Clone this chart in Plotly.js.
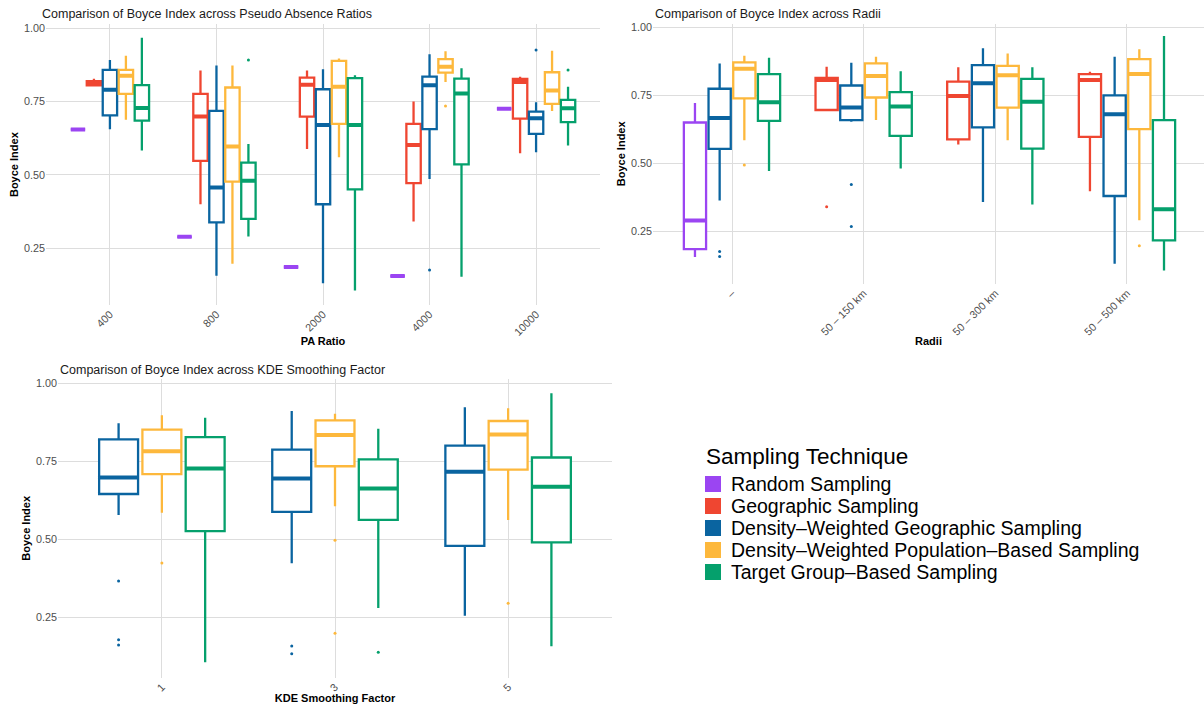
<!DOCTYPE html>
<html><head><meta charset="utf-8">
<script src="https://cdn.plot.ly/plotly-3.0.1.min.js"></script>
<style>html,body{margin:0;padding:0;background:#fff}</style>
</head><body><div id="chart" style="width:1204px;height:704px"></div>
<script>
// Series
const seriesNames = ['Random Sampling','Geographic Sampling','Density–Weighted Geographic Sampling','Density–Weighted Population–Based Sampling','Target Group–Based Sampling'];
const seriesColors = ['#9B45F2','#EF4631','#0A64A0','#FDB83C','#05A06C'];

// Box stats per category: [lower whisker, Q1, median, Q3, upper whisker]; null = no box
// Panel 1: PA Ratio
const paRatios = ['400','800','2000','4000','10000'];
const paRandom = [[0.655,0.655,0.655,0.655,0.655],[0.289,0.289,0.289,0.289,0.289],[0.186,0.186,0.186,0.186,0.186],[0.155,0.155,0.155,0.155,0.155],[0.726,0.726,0.726,0.726,0.726]];
const paGeo    = [[0.805,0.805,0.810,0.820,0.828],[0.400,0.548,0.699,0.776,0.856],[0.588,0.699,0.807,0.832,0.856],[0.341,0.472,0.602,0.674,0.750],[0.574,0.692,0.817,0.827,0.835]];
const paDWG    = [[0.656,0.703,0.790,0.858,0.892],[0.156,0.338,0.457,0.718,0.873],[0.131,0.400,0.670,0.792,0.860],[0.486,0.656,0.806,0.835,0.911],[0.577,0.640,0.693,0.716,0.748]];
const paDWP    = [[0.688,0.776,0.838,0.858,0.906],[0.197,0.477,0.597,0.798,0.873],[0.560,0.674,0.801,0.889,0.897],[0.817,0.849,0.869,0.895,0.922],[0.718,0.742,0.788,0.850,0.923]];
const paTG     = [[0.583,0.685,0.728,0.806,0.968],[0.290,0.350,0.480,0.542,0.605],[0.106,0.451,0.670,0.830,0.840],[0.153,0.536,0.778,0.828,0.864],[0.600,0.680,0.727,0.756,0.801]];
const paOutDWG = [['4000',0.176],['10000',0.926]];
const paOutDWP = [['4000',0.735]];
const paOutTG  = [['800',0.892],['10000',0.858]];

// Panel 2: Radii
const radii = ['–','50 – 150 km','50 – 300 km','50 – 500 km'];
const radRandom = [[0.156,0.185,0.290,0.650,0.722],null,null,null];
const radGeo    = [null,[0.694,0.696,0.806,0.814,0.855],[0.569,0.588,0.747,0.800,0.853],[0.397,0.597,0.806,0.828,0.837]];
const radDWG    = [[0.363,0.553,0.667,0.774,0.867],[0.653,0.659,0.705,0.786,0.870],[0.358,0.632,0.794,0.861,0.923],[0.131,0.380,0.680,0.750,0.892]];
const radDWP    = [[0.585,0.739,0.848,0.871,0.895],[0.659,0.742,0.821,0.867,0.892],[0.585,0.705,0.824,0.858,0.904],[0.291,0.626,0.828,0.883,0.919]];
const radTG     = [[0.472,0.656,0.724,0.828,0.888],[0.481,0.601,0.709,0.762,0.838],[0.349,0.554,0.726,0.810,0.853],[0.106,0.217,0.331,0.659,0.968]];
const radOutGeo = [['50 – 150 km',0.340]];
const radOutDWG = [['–',0.176],['–',0.158],['50 – 150 km',0.422],['50 – 150 km',0.268]];
const radOutDWP = [['–',0.494],['50 – 500 km',0.197]];

// Panel 3: KDE Smoothing Factor
const kdeFactors = ['1','3','5'];
const kdeDWG = [[0.578,0.645,0.698,0.820,0.872],[0.423,0.588,0.695,0.787,0.911],[0.255,0.479,0.716,0.800,0.923]];
const kdeDWP = [[0.585,0.709,0.782,0.851,0.897],[0.606,0.734,0.834,0.881,0.902],[0.562,0.723,0.836,0.879,0.920]];
const kdeTG  = [[0.106,0.526,0.727,0.827,0.889],[0.280,0.562,0.663,0.756,0.854],[0.157,0.490,0.668,0.762,0.968]];
const kdeOutDWG = [['1',0.366],['1',0.178],['1',0.161],['3',0.158],['3',0.133]];
const kdeOutDWP = [['1',0.424],['3',0.497],['3',0.199],['5',0.295]];
const kdeOutTG  = [['3',0.138]];

const yTicks = [0.25,0.50,0.75,1.00];

function buildPanel(cats, data, outs, xa, ya) {
  const present = cats.map((c,ci) => data.map((d,si) => (d && d[ci]) ? si : -1).filter(s => s >= 0));
  const nMax = Math.max(...present.map(p => p.length));
  const span = 0.75;
  const boxW = span / nMax * 0.9;
  const pos = (si, ci) => { const p = present[ci]; const j = p.indexOf(si); return ci + span * (-0.5 + (j + 0.5) / p.length); };
  const boxes = [], meds = [], pts = [];
  data.forEach((d, si) => {
    if (!d) return;
    const xs=[], lf=[], q1=[], md=[], q3=[], uf=[];
    d.forEach((s, ci) => { if (!s) return; xs.push(pos(si,ci)); lf.push(s[0]); q1.push(s[1]); md.push(s[2]); q3.push(s[3]); uf.push(s[4]); });
    if (!xs.length) return;
    const col = seriesColors[si];
    boxes.push({type:'box', name:seriesNames[si], x:xs, lowerfence:lf, q1:q1, median:md, q3:q3, upperfence:uf,
      width:boxW, whiskerwidth:0, boxpoints:false, xaxis:xa, yaxis:ya, showlegend:false,
      line:{color:col, width:2.3}, fillcolor:'#ffffff', hoverinfo:'y'});
    meds.push({type:'box', name:seriesNames[si], x:xs, lowerfence:md, q1:md, median:md, q3:md, upperfence:md,
      width:boxW, whiskerwidth:0, boxpoints:false, xaxis:xa, yaxis:ya, showlegend:false,
      line:{color:col, width:4}, fillcolor:'rgba(0,0,0,0)', hoverinfo:'skip'});
    const o = outs[si];
    if (o && o.length) {
      pts.push({type:'scatter', mode:'markers', name:seriesNames[si], x:o.map(p => pos(si, cats.indexOf(p[0]))), y:o.map(p => p[1]),
        xaxis:xa, yaxis:ya, showlegend:false, marker:{size:3, color:col}, hoverinfo:'y'});
    }
  });
  return boxes.concat(meds, pts);
}

const traces = [].concat(
  buildPanel(paRatios, [paRandom, paGeo, paDWG, paDWP, paTG], [null, null, paOutDWG, paOutDWP, paOutTG], 'x', 'y'),
  buildPanel(radii, [radRandom, radGeo, radDWG, radDWP, radTG], [null, radOutGeo, radOutDWG, radOutDWP, null], 'x2', 'y2'),
  buildPanel(kdeFactors, [null, null, kdeDWG, kdeDWP, kdeTG], [null, null, kdeOutDWG, kdeOutDWP, kdeOutTG], 'x3', 'y3')
);

const W = 1204, H = 704;
const FONT = 'Liberation Sans, Arial, Helvetica, sans-serif';
const grid = '#DDDDDD';
const tickFont = {family:FONT, size:10.8, color:'#4D4D4D'};
const axTitleFont = {family:FONT, size:11, color:'#000000', weight:'bold'};

function xAxis(dom, cats, maxR, title, anchor) {
  return {domain:dom, range:[-0.6, maxR], tickvals:cats.map((c,i)=>i), ticktext:cats, tickangle:-45,
    showgrid:true, gridcolor:grid, gridwidth:1, zeroline:false, showline:false, ticks:'', tickfont:tickFont,
    automargin:false, anchor:anchor, title:{text:title, font:axTitleFont, standoff:0}};
}
function yAxis(dom, anchor) {
  return {domain:dom, range:[0.0565, 1.0135], tickvals:yTicks, tickformat:'.2f', showgrid:true, gridcolor:grid,
    gridwidth:1, zeroline:false, showline:false, ticks:'', tickfont:tickFont, automargin:false, anchor:anchor,
    title:{text:'Boyce Index', font:axTitleFont, standoff:3}};
}

const titleFont = {family:FONT, size:12.5, color:'#1A1A1A'};
const annotations = [
  {text:'Comparison of Boyce Index across Pseudo Absence Ratios', x:40/W, y:1-14/H},
  {text:'Comparison of Boyce Index across Radii', x:653/W, y:1-14/H},
  {text:'Comparison of Boyce Index across KDE Smoothing Factor', x:58/W, y:1-370/H}
].map(a => Object.assign({xref:'paper', yref:'paper', xanchor:'left', yanchor:'middle', showarrow:false, font:titleFont}, a));

// Legend (drawn from series names and colours)
const legX = 704, legTitleY = 456, legY0 = 484, legStep = 22;
annotations.push({text:'Sampling Technique', xref:'paper', yref:'paper', x:legX/W, y:1-legTitleY/H, xanchor:'left', yanchor:'middle',
  showarrow:false, font:{family:FONT, size:22.5, color:'#000000'}});
const shapes = [];
seriesNames.forEach((nm, i) => {
  const cy = legY0 + i*legStep;
  annotations.push({text:nm, xref:'paper', yref:'paper', x:(legX+25)/W, y:1-cy/H, xanchor:'left', yanchor:'middle',
    showarrow:false, font:{family:FONT, size:19.5, color:'#000000'}});
  shapes.push({type:'rect', xref:'paper', yref:'paper', x0:(legX+1)/W, x1:(legX+17)/W, y0:1-(cy+8)/H, y1:1-(cy-8)/H,
    fillcolor:seriesColors[i], line:{width:0}});
});

const layout = {
  width:W, height:H, margin:{l:0, r:0, t:0, b:0}, paper_bgcolor:'#ffffff', plot_bgcolor:'#ffffff',
  boxmode:'overlay', showlegend:false, font:{family:FONT},
  xaxis:  xAxis([46/W, 600/W], paRatios, 4.6, 'PA Ratio', 'y'),
  yaxis:  yAxis([1-305/H, 1-24.3/H], 'x'),
  xaxis2: xAxis([653/W, 1], radii, 3.585, 'Radii', 'y2'),
  yaxis2: yAxis([1-284/H, 1-23.6/H], 'x2'),
  xaxis3: xAxis([58/W, 612/W], kdeFactors, 2.6, 'KDE Smoothing Factor', 'y3'),
  yaxis3: yAxis([1-677.7/H, 1-379/H], 'x3'),
  annotations: annotations, shapes: shapes
};

Plotly.newPlot('chart', traces, layout, {displayModeBar:false, staticPlot:true});
</script></body></html>
